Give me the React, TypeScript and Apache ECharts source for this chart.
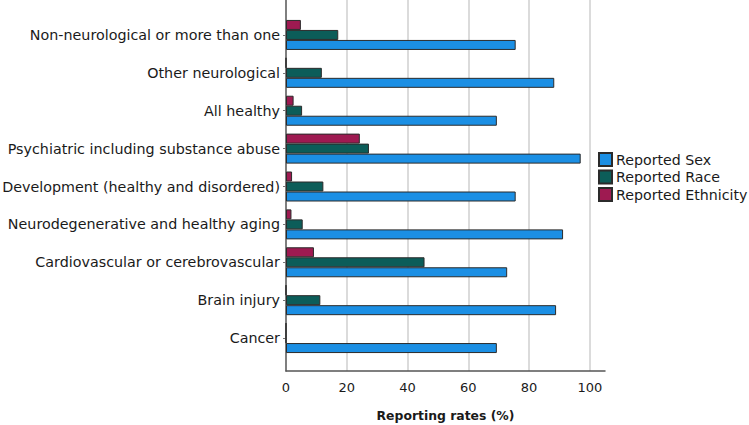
import React, { useEffect, useRef } from "react";
import * as echarts from "echarts";

const categories = [
  "Cancer",
  "Brain injury",
  "Cardiovascular or cerebrovascular",
  "Neurodegenerative and healthy aging",
  "Development (healthy and disordered)",
  "Psychiatric including substance abuse",
  "All healthy",
  "Other neurological",
  "Non-neurological or more than one",
];
const reportedSex = [69.4, 88.9, 72.8, 91.2, 75.6, 97.0, 69.4, 88.3, 75.6];
const reportedRace = [0, 11.3, 45.6, 5.5, 12.3, 27.3, 5.3, 11.8, 17.2];
const reportedEthnicity = [0, 0, 9.2, 1.8, 2.0, 24.3, 2.5, 0, 4.9];
const xTicks = [0, 20, 40, 60, 80, 100];

const FONT = "DejaVu Sans";

export default function App() {
  const ref = useRef<HTMLDivElement>(null);
  useEffect(() => {
    if (!ref.current) return;
    const chart = echarts.init(ref.current, undefined, { renderer: "svg" });
    const border = { borderColor: "#2b2b2b", borderWidth: 1 };
    chart.setOption({
      animation: false,
      textStyle: { fontFamily: FONT },
      legend: {
        orient: "vertical",
        left: 593,
        top: 147,
        itemWidth: 13,
        itemHeight: 13,
        itemGap: 2.5,
        icon: "rect",
        textStyle: {
          fontSize: 14.2,
          color: "#1a1a1a",
          fontFamily: FONT,
          padding: [0, 0, 0, -1],
        },
        data: ["Reported Sex", "Reported Race", "Reported Ethnicity"],
      },
      grid: [
        { left: 286, top: 0, width: 319, height: 371, outerBoundsMode: "none", containLabel: false },
        { left: 286, top: 16, width: 319, height: 341, outerBoundsMode: "none", containLabel: false },
      ],
      xAxis: [
        {
          type: "value",
          gridIndex: 0,
          min: 0,
          max: 105,
          interval: 20,
          axisLine: { show: true, lineStyle: { color: "#555", width: 1.5 } },
          axisTick: { show: false },
          axisLabel: {
            fontSize: 13,
            color: "#1a1a1a",
            margin: 10,
            showMaxLabel: false,
            formatter: (v: number) => (xTicks.includes(v) ? String(v) : ""),
          },
          splitLine: {
            show: true,
            showMinLine: false,
            showMaxLine: false,
            lineStyle: { color: "#cfcfcf", width: 1.5 },
          },
          name: "Reporting rates (%)",
          nameLocation: "middle",
          nameGap: 38,
          nameTextStyle: { fontSize: 12.4, fontWeight: "bold", color: "#1a1a1a" },
        },
        {
          type: "value",
          gridIndex: 1,
          min: 0,
          max: 105,
          show: false,
        },
      ],
      yAxis: [
        {
          type: "value",
          gridIndex: 0,
          min: 0,
          max: 1,
          axisLine: { show: true, lineStyle: { color: "#555", width: 1.5 } },
          axisTick: { show: false },
          axisLabel: { show: false },
          splitLine: { show: false },
        },
        {
          type: "category",
          gridIndex: 1,
          data: categories,
          axisLine: { show: false },
          axisTick: { show: true, alignWithLabel: true, length: 3, lineStyle: { color: "#777" } },
          axisLabel: { fontSize: 14.3, color: "#1a1a1a", margin: 6 },
          splitLine: { show: false },
        },
      ],
      series: [
        {
          name: "Reported Ethnicity",
          type: "bar",
          xAxisIndex: 1,
          yAxisIndex: 1,
          data: reportedEthnicity,
          barWidth: 10,
          barGap: "0%",
          itemStyle: { color: "#9e1a51", ...border },
        },
        {
          name: "Reported Race",
          type: "bar",
          xAxisIndex: 1,
          yAxisIndex: 1,
          data: reportedRace,
          barWidth: 10,
          barGap: "0%",
          itemStyle: { color: "#0c5d59", ...border },
        },
        {
          name: "Reported Sex",
          type: "bar",
          xAxisIndex: 1,
          yAxisIndex: 1,
          data: reportedSex,
          barWidth: 10,
          barGap: "0%",
          itemStyle: { color: "#1b8fe4", ...border },
        },
      ],
    });
    return () => chart.dispose();
  }, []);
  return (
    <div
      ref={ref}
      style={{ position: "fixed", left: 0, top: 0, width: 749, height: 425, background: "#fff" }}
    />
  );
}
